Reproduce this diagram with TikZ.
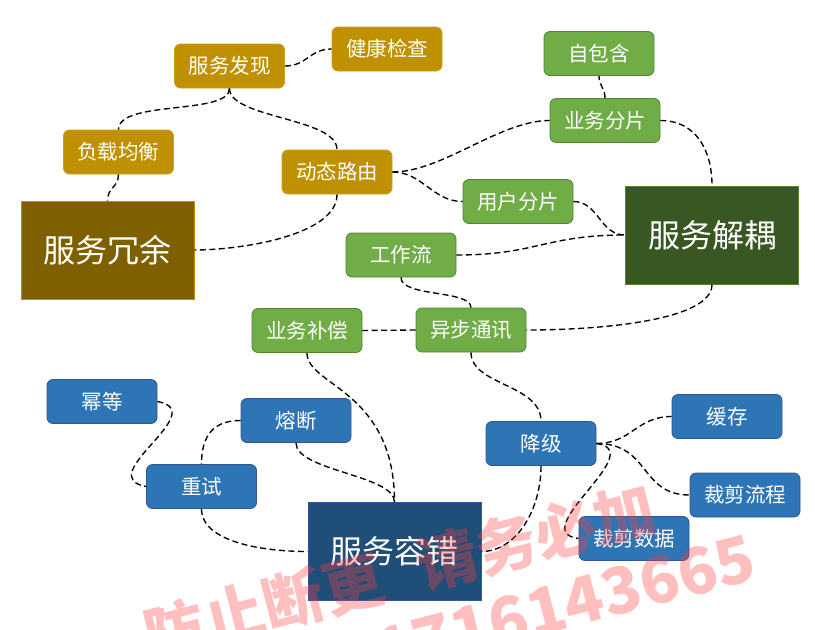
\documentclass[tikz,border=0pt]{standalone}
\usepackage{fontspec}
\setmainfont{Noto Sans CJK SC}
\definecolor{gold}{HTML}{BF9000}
\definecolor{goldb}{HTML}{C9A020}
\definecolor{olive}{HTML}{7F6000}
\definecolor{grn}{HTML}{70AD47}
\definecolor{grnb}{HTML}{548235}
\definecolor{dgrn}{HTML}{385723}
\definecolor{blu}{HTML}{2E75B6}
\definecolor{blub}{HTML}{2F5597}
\definecolor{dblu}{HTML}{1F4E79}
\definecolor{wm}{HTML}{FF3C3C}
\tikzset{
  box/.style={rounded corners=6pt, minimum width=110pt, minimum height=44pt, inner sep=0pt,
    text=white, font=\fontsize{20.5}{24}\selectfont, line width=0.8pt},
  goldbox/.style={box, fill=gold, draw=goldb},
  grnbox/.style={box, fill=grn, draw=grnb},
  blubox/.style={box, fill=blu, draw=blub},
  bigbox/.style={minimum width=173pt, minimum height=98pt, inner sep=0pt,
    text=white, font=\fontsize{32}{38}\selectfont, line width=1pt},
  link/.style={draw=black, line width=1.35pt, dash pattern=on 6pt off 3.5pt},
  wmark/.style={text=wm, opacity=0.33, inner sep=0pt, rotate=14.5}
}
\begin{document}
\begin{tikzpicture}[x=1pt, y=-1pt]
\useasboundingbox (0,0) rectangle (815,630);
% gold group
\node[goldbox] (fx) at (229.5,66) {服务发现};
\node[goldbox] (jk) at (387,49) {健康检查};
\node[goldbox] (fz) at (118.5,152) {负载均衡};
\node[goldbox] (dt) at (337,172) {动态路由};
\node[bigbox, fill=olive, draw=gold] (ry) at (107.5,250) {服务冗余};
% green group
\node[grnbox] (zb) at (599,53.5) {自包含};
\node[grnbox] (yf) at (605,120.5) {业务分片};
\node[grnbox] (yh) at (518,201.5) {用户分片};
\node[bigbox, fill=dgrn, draw=grnb] (jo) at (712,235) {服务解耦};
\node[grnbox] (gz) at (401,255) {工作流};
\node[grnbox] (bc) at (307,330.5) {业务补偿};
\node[grnbox] (yb) at (471,330) {异步通讯};
% blue group
\node[blubox] (md) at (102,401.5) {幂等};
\node[blubox] (rd) at (296,420.5) {熔断};
\node[blubox] (cs) at (201.5,486.5) {重试};
\node[bigbox, fill=dblu, draw=blub] (rc) at (394.5,551.5) {服务容错};
\node[blubox] (jj) at (541,443.5) {降级};
\node[blubox] (hc) at (727,416.5) {缓存};
\node[blubox] (lc) at (745,495) {裁剪流程};
\node[blubox] (sj) at (634,538.5) {裁剪数据};
% connectors
\draw[link] (fx.east) .. controls +(22,0) and +(-22,0) .. (jk.west);
\draw[link] (fx.south) .. controls +(0,27) and +(0,-30) .. (fz.north);
\draw[link] (fx.south) .. controls +(0,30) and +(0,-32) .. (dt.north);
\draw[link] (fz.south) .. controls +(0,13) and +(0,-13) .. (ry.north);
\draw[link] (dt.south) .. controls +(0,41) and +(46,0) .. (ry.east);
\draw[link] (dt.east) .. controls +(50,0) and +(-50,0) .. (yf.west);
\draw[link] (dt.east) .. controls +(30,0) and +(-30,0) .. (yh.west);
\draw[link] (yf.north) .. controls +(0,-10) and +(0,10) .. (zb.south);
\draw[link] (yf.east) .. controls +(35,0) and +(0,-36) .. (jo.north);
\draw[link] (yh.east) .. controls +(25,0) and +(-25,0) .. (jo.west);
\draw[link] (gz.east) .. controls +(80,0) and +(-80,0) .. (jo.west);
\draw[link] (gz.south) .. controls +(0,20) and +(0,-18) .. (yb.north);
\draw[link] (jo.south) .. controls +(0,36) and +(74,0) .. (yb.east);
\draw[link] (yb.west) -- (bc.east);
\draw[link] (bc.south) .. controls +(0,33) and +(0,-112) .. (rc.north);
\draw[link] (rd.south) .. controls +(0,28) and +(0,-27) .. (rc.north);
\draw[link] (rd.west) .. controls +(-26,0) and +(0,-30) .. (cs.north);
\draw[link] (md.east) .. controls +(55,10) and +(-55,-10) .. (cs.west);
\draw[link] (cs.south) .. controls +(0,32) and +(-48,0) .. (rc.west);
\draw[link] (yb.south) .. controls +(0,33) and +(0,-37) .. (jj.north);
\draw[link] (jj.south) .. controls +(0,45) and +(34,0) .. (rc.east);
\draw[link] (jj.east) .. controls +(35,0) and +(-35,0) .. (hc.west);
\draw[link] (jj.east) .. controls +(54,0) and +(-50,0) .. (lc.west);
\draw[link] (jj.east) .. controls +(54,7) and +(-54,-7) .. (sj.west);
% watermark
\node[wmark, font=\fontsize{61}{70}\selectfont\bfseries] (w1) at (400,572) {防止断更\hspace{0.6em}请务必加};
\node[wmark, font=\fontsize{64}{70}\selectfont\bfseries] (w2) at (565,605) {1716143665};
\end{tikzpicture}
\end{document}
